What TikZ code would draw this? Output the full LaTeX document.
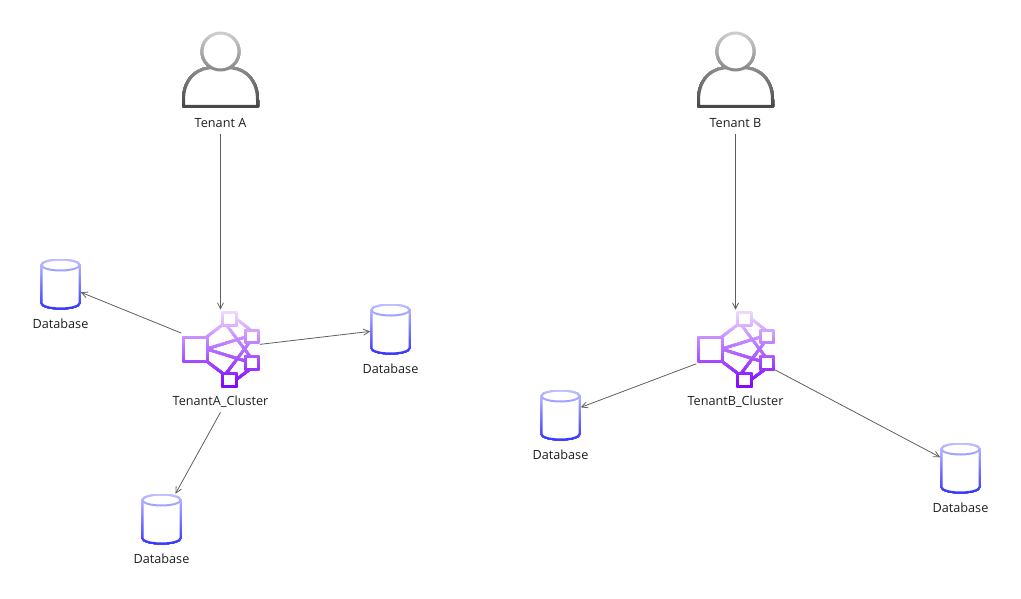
\documentclass[tikz,border=0pt]{standalone}
\usepackage{fontspec}
\setmainfont{Open Sans}
\usetikzlibrary{arrows.meta, positioning}
\definecolor{edgegray}{RGB}{95,95,95}
\definecolor{textdark}{RGB}{30,30,30}
\definecolor{userlo}{RGB}{204,204,204}
\definecolor{userhi}{RGB}{68,68,68}
\definecolor{clusterlo}{RGB}{236,216,255}
\definecolor{clusterhi}{RGB}{127,0,255}
\definecolor{dblo}{RGB}{190,190,255}
\definecolor{dbhi}{RGB}{51,51,255}
% #1 node, #2 top colour, #3 bottom colour, #4 half height, #5 drawing
\newcommand{\gradicon}[5]{%
  \foreach \band in {0,...,24}{%
    \pgfmathsetmacro{\bandy}{-#4+2*#4*\band/25}
    \pgfmathsetmacro{\bandmix}{100-4*\band}
    \begin{scope}[shift={(#1.center)}]
      \clip (-45,\bandy) rectangle (45,#4+3);
      \colorlet{bandcol}{#2!\bandmix!#3}
      #5
    \end{scope}
  }%
}
\newcommand{\usericon}[1]{\gradicon{#1}{userlo}{userhi}{38}{%
  \draw[iconline] (-37,36.5) -- (-37,30) .. controls (-37,12) and (-27,0) .. (-12,-2)
    -- (12,-2) .. controls (27,0) and (37,12) .. (37,30) -- (37,36.5) -- cycle;
  \draw[iconline] (0,-18.5) circle[radius=18.5];
}}
\newcommand{\clustericon}[1]{\gradicon{#1}{clusterlo}{clusterhi}{38}{%
  \draw[iconline,fill=none,line width=1.9pt] (-14,-12) -- (3,-25) (-14,12) -- (3,25)
    (-14,0) -- (25,-12) (-14,0) -- (25,12)
    (15,-31) -- (30,-19) (6,-24) -- (30,8) (30,-8) -- (6,24) (30,20) -- (15,31);
  \draw[iconline] (-37,-12) rectangle (-13.5,12);
  \draw[iconline] (2,-37) rectangle (16,-24);
  \draw[iconline] (24.5,-19) rectangle (37.5,-7);
  \draw[iconline] (24.5,7.5) rectangle (37.5,20);
  \draw[iconline] (2,24) rectangle (15.5,37);
}}
\newcommand{\dbicon}[1]{\gradicon{#1}{dblo}{dbhi}{25}{%
  \draw[iconline,line width=1.5pt] (-19,-19) -- (-19,19) arc[start angle=180,end angle=0,x radius=19,y radius=5.5]
    -- (19,-19) arc[start angle=0,end angle=-180,x radius=19,y radius=5.5] -- cycle;
  \draw[iconline,fill=none,line width=1.5pt] (0,-19) ellipse[x radius=19,y radius=5.5];
}}
\tikzset{
  iconline/.style={draw=bandcol,line width=2.25pt,line join=round,fill=white},
  arr/.style={-{Straight Barb[length=4.5pt,width=4.5pt]},edgegray,line width=0.6pt},
  lbl/.style={font=\fontsize{9.5}{11}\selectfont,text=textdark,inner sep=0pt,minimum height=15pt},
  usernode/.style={inner sep=0pt,minimum width=58pt,minimum height=58pt},
  clusternode/.style={inner sep=0pt,minimum width=58.5pt,minimum height=58.5pt},
  dbnode/.style={inner sep=0pt,minimum width=30pt,minimum height=37.5pt}
}
\begin{document}
\begin{tikzpicture}[x=0.75pt,y=-0.75pt]
\useasboundingbox (0,0) rectangle (1021,599);
% tenant A
\node[usernode] (userA) at (220.5,70) {}; \usericon{userA}
\node[lbl] (tenantA) at (220.5,123.5) {Tenant A};
\node[clusternode] (clusterA) at (220.5,349) {}; \clustericon{clusterA}
\node[lbl] (clusterAlbl) at (220.5,402) {TenantA\_Cluster};
\node[dbnode] (dbA1) at (60.5,284) {}; \dbicon{dbA1}
\node[lbl] (dbA1lbl) at (60.5,323.5) {Database};
\node[dbnode] (dbA2) at (390.5,329) {}; \dbicon{dbA2}
\node[lbl] (dbA2lbl) at (390.5,368.5) {Database};
\node[dbnode] (dbA3) at (161.5,519) {}; \dbicon{dbA3}
\node[lbl] (dbA3lbl) at (161.5,558.5) {Database};
% tenant B
\node[usernode] (userB) at (735.5,70) {}; \usericon{userB}
\node[lbl] (tenantB) at (735.5,123.5) {Tenant B};
\node[clusternode] (clusterB) at (735.5,349) {}; \clustericon{clusterB}
\node[lbl] (clusterBlbl) at (735.5,402) {TenantB\_Cluster};
\node[dbnode] (dbB1) at (560.5,415) {}; \dbicon{dbB1}
\node[lbl] (dbB1lbl) at (560.5,454.5) {Database};
\node[dbnode] (dbB2) at (960.5,468) {}; \dbicon{dbB2}
\node[lbl] (dbB2lbl) at (960.5,507.5) {Database};
% connectors
\draw[arr] (tenantA)--(clusterA);
\draw[arr] (clusterA)--(dbA1);
\draw[arr] (clusterA)--(dbA2);
\draw[arr] (clusterAlbl.south)--(dbA3);
\draw[arr] (tenantB)--(clusterB);
\draw[arr] (clusterB)--(dbB1);
\draw[arr] (clusterB)--(dbB2);
\end{tikzpicture}
\end{document}
